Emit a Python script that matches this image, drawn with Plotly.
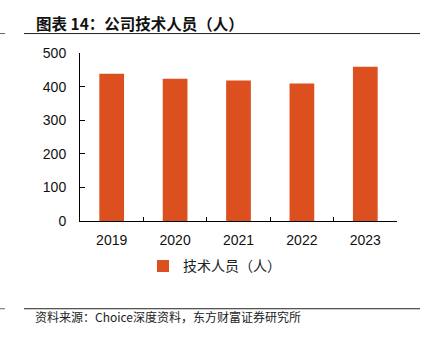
import plotly.graph_objects as go

# Company technical staff headcount by year
years = ["2019", "2020", "2021", "2022", "2023"]
tech_staff = [438, 423, 418, 409, 459]
series_name = "技术人员（人）"
title_text = "图表 14：公司技术人员（人）"
source_text = "资料来源：Choice深度资料，东方财富证券研究所"

bar_color = "#DC4F1F"
cjk_font = "Noto Sans CJK SC"
num_font = "Liberation Sans, Arial, sans-serif"

fig = go.Figure()
fig.add_trace(go.Bar(
    x=years,
    y=tech_staff,
    name=series_name,
    marker=dict(color=bar_color, line=dict(width=0)),
    showlegend=True,
))

W, H = 428, 339
L, R, T, B = 80, 31, 53, 117.5

def px_x(x):
    return (x - L) / (W - L - R)

def px_y(y):
    return (H - B - y) / (H - T - B)

fig.update_layout(
    width=W,
    height=H,
    margin=dict(l=L, r=R, t=T, b=B, pad=0),
    paper_bgcolor="white",
    plot_bgcolor="white",
    bargap=0.61,
    showlegend=True,
    legend=dict(
        orientation="h",
        x=px_x(143), xanchor="left",
        y=px_y(267), yanchor="middle",
        font=dict(family=cjk_font, size=14, color="#222"),
        bgcolor="rgba(0,0,0,0)",
        itemclick=False,
    ),
    xaxis=dict(
        type="category",
        showline=True, linecolor="#000", linewidth=1,
        ticks="inside", ticklen=4, tickcolor="#000", tickwidth=1,
        tickson="boundaries",
        tickfont=dict(family=num_font, size=14, color="#111"),
        showgrid=False, zeroline=False,
        ticklabelstandoff=6,
    ),
    yaxis=dict(
        range=[0, 500],
        tickvals=[0, 100, 200, 300, 400, 500],
        showline=True, linecolor="#000", linewidth=1,
        ticks="inside", ticklen=5, tickcolor="#000", tickwidth=1,
        tickfont=dict(family=num_font, size=14, color="#111"),
        showgrid=False, zeroline=False,
        ticklabelstandoff=10,
    ),
)

# Title, header rule and footer
fig.add_annotation(
    text="<b>" + title_text + "</b>",
    xref="paper", yref="paper",
    x=px_x(34), y=px_y(22.5), xanchor="left", yanchor="middle",
    showarrow=False,
    font=dict(family=cjk_font, size=15.5, color="#111"),
)
fig.add_annotation(
    text=source_text,
    xref="paper", yref="paper",
    x=px_x(33), y=px_y(317), xanchor="left", yanchor="middle",
    showarrow=False,
    font=dict(family=cjk_font, size=12, color="#222"),
)

for yline in (33.5, 309.5):
    fig.add_shape(type="line", xref="paper", yref="paper",
                  x0=px_x(24), x1=px_x(420), y0=px_y(yline), y1=px_y(yline),
                  line=dict(color="#222", width=1))
    fig.add_shape(type="line", xref="paper", yref="paper",
                  x0=px_x(0), x1=px_x(5), y0=px_y(yline), y1=px_y(yline),
                  line=dict(color="#666", width=1))

fig.write_html("out.html")
